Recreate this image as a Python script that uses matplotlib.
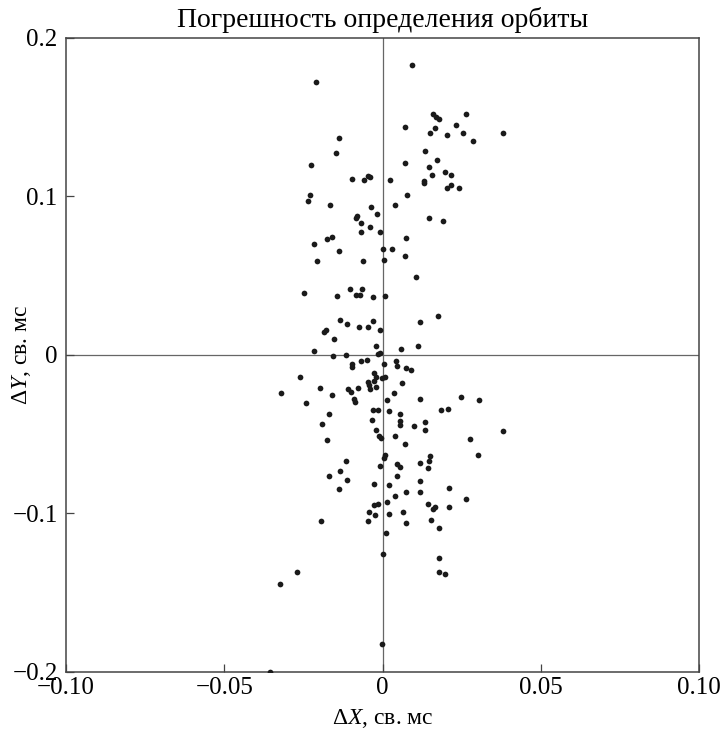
"""
Orbit determination error scatter: dX vs dY (arc ms)
"""

import matplotlib
matplotlib.use('Agg')
import matplotlib.pyplot as plt

# Point estimates (arc ms)
dx = [
    -0.0209, 0.0092,
    0.0159, 0.0170, 0.0178, 0.0263, 0.0072, 0.0166, 0.0231, 0.0151, 0.0203, 0.0253,
    0.0380, 0.0285, -0.0138, -0.0147, -0.0227, 0.0134, 0.0070, 0.0172, 0.0147, 0.0197,
    0.0217, 0.0155, -0.0097, -0.0059, -0.0045, -0.0041, 0.0024, 0.0131, 0.0132, 0.0203,
    0.0217, 0.0243, -0.0229, -0.0234, -0.0165, 0.0077, 0.0041, -0.0036, -0.0016, -0.0081,
    -0.0084, -0.0067, -0.0039, 0.0146, 0.0191,
    -0.0067, -0.0008, 0.0075, -0.0161, -0.0175, -0.0218, -0.0136, 0.0003, 0.0029, 0.0072,
    -0.0207, -0.0061, 0.0006, 0.0105, -0.0249, -0.0143, -0.0102, -0.0064, -0.0084, -0.0070,
    -0.0029, 0.0007, 0.0175, 0.0118, -0.0135, -0.0112, -0.0075, -0.0047, -0.0029, -0.0007,
    -0.0178, -0.0186, -0.0152,
    -0.0215, -0.0157, -0.0115, -0.0019, -0.0014, -0.0008, 0.0058, 0.0112, -0.0095, -0.0095,
    -0.0067, -0.0050, 0.0004, 0.0043, 0.0046, 0.0073, 0.0090, -0.0260, -0.0026, -0.0022,
    -0.0001, 0.0009, -0.0047, -0.0028, -0.0043, -0.0038, -0.0022, 0.0061, -0.0320, -0.0198,
    -0.0110, -0.0098, -0.0078, -0.0160, -0.0243, -0.0091, -0.0088, 0.0035, 0.0013, 0.0118,
    0.0248, 0.0305, -0.0169, -0.0031, -0.0013, 0.0021, 0.0056, 0.0185, 0.0206, -0.0190,
    -0.0033, 0.0056, 0.0056, 0.0098, 0.0135, 0.0135, 0.0382, -0.0019, -0.0010, -0.0005,
    0.0041, -0.0174, 0.0278, 0.0072,
    0.0302, 0.0009, 0.0004, -0.0007, -0.0115, -0.0133, -0.0170, -0.0113, -0.0138, 0.0046,
    0.0055, 0.0120, 0.0149, 0.0147, 0.0143, 0.0046, -0.0028, 0.0021, 0.0120, 0.0211,
    0.0075, 0.0118, 0.0038, 0.0263, 0.0013, -0.0028, -0.0014, 0.0143, 0.0167, 0.0158,
    0.0211, -0.0042, -0.0023, 0.0021, 0.0066, -0.0195, -0.0047, 0.0075, 0.0152, 0.0177,
    0.0010, 0.0003, 0.0180,
    -0.0271, -0.0325, 0.0177, 0.0198, -0.0001, -0.0357,
]
dy = [
    0.172, 0.183,
    0.1520, 0.1500, 0.1486, 0.1520, 0.1438, 0.1429, 0.1452, 0.1402, 0.1389, 0.1398,
    0.1398, 0.1351, 0.1368, 0.1271, 0.1197, 0.1284, 0.1210, 0.1231, 0.1187, 0.1153,
    0.1136, 0.1136, 0.1109, 0.1101, 0.1128, 0.1124, 0.1101, 0.1094, 0.1084, 0.1050,
    0.1073, 0.1054, 0.1006, 0.0972, 0.0943, 0.1010, 0.0943, 0.0930, 0.0890, 0.0877,
    0.0863, 0.0829, 0.0806, 0.0863, 0.0842,
    0.0778, 0.0778, 0.0740, 0.0745, 0.0732, 0.0698, 0.0658, 0.0665, 0.0665, 0.0625,
    0.0595, 0.0595, 0.0601, 0.0494, 0.0387, 0.0374, 0.0412, 0.0414, 0.0380, 0.0380,
    0.0363, 0.0370, 0.0245, 0.0205, 0.0218, 0.0193, 0.0176, 0.0176, 0.0212, 0.0155,
    0.0155, 0.0144, 0.0098,
    0.0024, -0.0009, 0.0001, 0.0054, 0.0003, 0.0008, 0.0035, 0.0058, -0.0056, -0.0079,
    -0.0041, -0.0030, -0.0060, -0.0039, -0.0068, -0.0083, -0.0098, -0.0142, -0.0113, -0.0140,
    -0.0147, -0.0142, -0.0169, -0.0166, -0.0193, -0.0214, -0.0203, -0.0180, -0.0243, -0.0210,
    -0.0216, -0.0237, -0.0210, -0.0256, -0.0306, -0.0281, -0.0296, -0.0243, -0.0283, -0.0279,
    -0.0267, -0.0283, -0.0374, -0.0351, -0.0351, -0.0357, -0.0374, -0.0351, -0.0340, -0.0437,
    -0.0414, -0.0420, -0.0446, -0.0448, -0.0424, -0.0477, -0.0481, -0.0475, -0.0515, -0.0526,
    -0.0511, -0.0538, -0.0532, -0.0561,
    -0.0635, -0.0635, -0.0652, -0.0703, -0.0669, -0.0732, -0.0766, -0.0789, -0.0846, -0.0692,
    -0.0709, -0.0681, -0.0641, -0.0671, -0.0715, -0.0766, -0.0816, -0.0823, -0.0795, -0.0839,
    -0.0869, -0.0869, -0.0892, -0.0909, -0.0932, -0.0949, -0.0943, -0.0940, -0.0959, -0.0976,
    -0.0964, -0.0991, -0.1010, -0.1003, -0.0993, -0.1050, -0.1050, -0.1061, -0.1044, -0.1094,
    -0.1128, -0.1259, -0.1282,
    -0.1372, -0.1446, -0.1372, -0.1385, -0.1827, -0.2000,
]

xticks = [-0.10, -0.05, 0, 0.05, 0.10]
xtick_labels = ['\u22120.10', '\u22120.05', '0', '0.05', '0.10']
yticks = [-0.2, -0.1, 0, 0.1, 0.2]
ytick_labels = ['\u22120.2', '\u22120.1', '0', '0.1', '0.2']

plt.rcParams['font.family'] = ['Liberation Serif', 'DejaVu Serif']
plt.rcParams['mathtext.fontset'] = 'custom'
plt.rcParams['mathtext.rm'] = 'Liberation Serif'
plt.rcParams['mathtext.it'] = 'Liberation Serif:italic'

fig = plt.figure(figsize=(7.22, 7.32), dpi=100)
ax = fig.add_axes([66 / 722, 1 - 671.5 / 732, (699 - 66) / 722, (671.5 - 38) / 732])

# Zero cross-hair
ax.axhline(0, color='#666666', linewidth=0.9, zorder=1)
ax.axvline(0, color='#666666', linewidth=0.9, zorder=1)

ax.scatter(dx, dy, s=17, color='#1a1a1a', linewidths=0, zorder=3)

ax.set_xlim(-0.10, 0.10)
ax.set_ylim(-0.2, 0.2)
ax.set_xticks(xticks)
ax.set_xticklabels(xtick_labels)
ax.set_yticks(yticks)
ax.set_yticklabels(ytick_labels)
ax.tick_params(direction='in', length=6, width=0.9, color='#444444',
               labelsize=18, top=False, right=False)
ax.tick_params(axis='x', pad=4)
ax.tick_params(axis='y', pad=6)

for sp in ax.spines.values():
    sp.set_color('#444444')
    sp.set_linewidth(1.1)

ax.set_title('Погрешность определения орбиты', fontsize=20, pad=8)
ax.set_xlabel(r'$\Delta X$, св. мс', fontsize=17, labelpad=6)
ax.set_ylabel(r'$\Delta Y$, св. мс', fontsize=17)
# label sits right next to the tick labels, as in the source figure
ax.yaxis.set_label_coords(-0.052, 0.5)

fig.savefig('out.png', dpi=100)
